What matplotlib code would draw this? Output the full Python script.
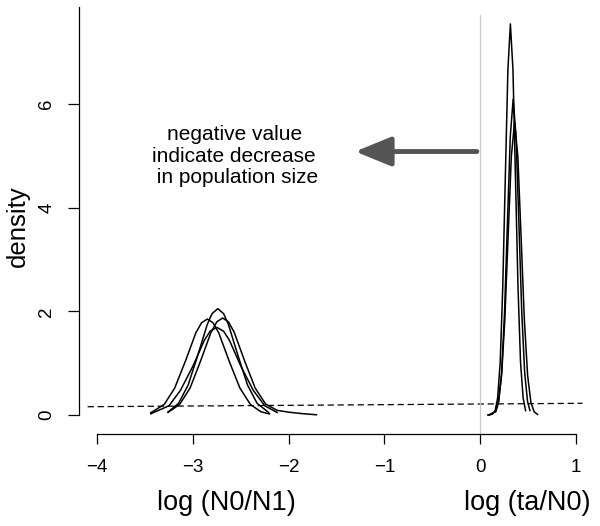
import numpy as np
import matplotlib.pyplot as plt

plt.rcParams['font.family'] = ['Liberation Sans', 'DejaVu Sans']

# posterior densities of log(N0/N1), four runs
n0n1_x1 = [-3.26, -3.15, -3.05, -2.95, -2.85, -2.80, -2.74, -2.68, -2.63, -2.53, -2.43, -2.33, -2.21]
n0n1_y1 = [0.058, 0.225, 0.579, 1.148, 1.749, 1.955, 2.05, 1.955, 1.749, 1.148, 0.579, 0.225, 0.051]
n0n1_x2 = [-3.44, -3.30, -3.19, -3.08, -2.97, -2.91, -2.85, -2.79, -2.73, -2.62, -2.51, -2.40, -2.29, -2.20]
n0n1_y2 = [0.044, 0.204, 0.522, 1.032, 1.582, 1.779, 1.85, 1.779, 1.582, 1.032, 0.522, 0.204, 0.063, 0.021]
n0n1_x3 = [-3.26, -3.14, -3.03, -2.92, -2.81, -2.75, -2.69, -2.63, -2.57, -2.46, -2.35, -2.24, -2.12, -2.00, -1.85, -1.71]
n0n1_y3 = [0.052, 0.202, 0.52, 1.043, 1.60, 1.798, 1.87, 1.798, 1.60, 1.043, 0.52, 0.21, 0.09, 0.055, 0.025, 0.005]
n0n1_x4 = [-3.44, -3.25, -3.13, -3.00, -2.88, -2.82, -2.75, -2.68, -2.62, -2.50, -2.37, -2.25, -2.12]
n0n1_y4 = [0.024, 0.179, 0.477, 0.943, 1.445, 1.616, 1.69, 1.616, 1.445, 0.943, 0.477, 0.179, 0.048]

# posterior densities of log(ta/N0), three runs
tan0_x1 = [0.080, 0.130, 0.157, 0.183, 0.210, 0.236, 0.263, 0.290, 0.316, 0.343, 0.369, 0.396, 0.422, 0.449, 0.475]
tan0_y1 = [0.0, 0.017, 0.084, 0.331, 1.020, 2.448, 4.573, 6.654, 7.54, 6.654, 4.573, 2.448, 1.020, 0.331, 0.084]
tan0_x2 = [0.090, 0.165, 0.195, 0.225, 0.255, 0.285, 0.315, 0.345, 0.375, 0.405, 0.435, 0.465, 0.495, 0.520]
tan0_y2 = [0.0, 0.068, 0.267, 0.824, 1.977, 3.694, 5.374, 6.09, 5.374, 3.694, 1.977, 0.824, 0.267, 0.086]
tan0_x3 = [0.100, 0.156, 0.190, 0.224, 0.258, 0.292, 0.326, 0.360, 0.394, 0.428, 0.462, 0.496, 0.530, 0.564, 0.600]
tan0_y3 = [0.004, 0.063, 0.248, 0.765, 1.835, 3.427, 4.986, 5.65, 4.986, 3.427, 1.835, 0.765, 0.248, 0.063, 0.011]

# prior (dashed line)
prior_x = [-4.1, 1.07]
prior_y = [0.16, 0.226]

x_ticks = [-4, -3, -2, -1, 0, 1]
y_ticks = [0, 2, 4, 6]

fig = plt.figure(figsize=(6, 5.26), dpi=100)
ax = fig.add_axes([0.1317, 0.1745, 0.852, 0.8116])

curves = [(n0n1_x1, n0n1_y1), (n0n1_x2, n0n1_y2), (n0n1_x3, n0n1_y3), (n0n1_x4, n0n1_y4),
          (tan0_x1, tan0_y1), (tan0_x2, tan0_y2), (tan0_x3, tan0_y3)]
for cx, cy in curves:
    ax.plot(cx, cy, color='black', lw=1.1)

ax.plot(prior_x, prior_y, color='black', lw=0.9, linestyle=(0, (5, 3)))
ax.axvline(0, ymin=0, ymax=0.982, color='#c8c8c8', lw=0.9)

ax.set_xlim(-4.19, 1.15)
ax.set_ylim(-0.37, 7.86)

# R style axes
ax.spines['top'].set_visible(False)
ax.spines['right'].set_visible(False)
ax.spines['bottom'].set_bounds(-4, 1)
ax.spines['left'].set_bounds(0, 7.86)
for s in ['bottom', 'left']:
    ax.spines[s].set_linewidth(0.9)

ax.set_xticks(x_ticks)
ax.set_yticks(y_ticks)
ax.set_yticklabels([str(v) for v in y_ticks], rotation=90, va='center')
ax.tick_params(axis='x', length=7.5, width=0.9, pad=10, labelsize=13.5)
ax.tick_params(axis='y', length=8, width=0.9, pad=9, labelsize=13.5)

ax.text(-0.119, 0.487, 'density', transform=ax.transAxes, rotation=90,
        ha='center', va='center', fontsize=18.5)
trans = ax.get_xaxis_transform()
ax.text(-2.65, -0.16, 'log (N0/N1)', transform=trans, ha='center', va='center', fontsize=19.5)
ax.text(0.49, -0.16, 'log (ta/N0)', transform=trans, ha='center', va='center', fontsize=19.5)

ax.text(-2.57, 4.99, 'negative value\nindicate decrease\n in population size',
        ha='center', va='center', fontsize=15, linespacing=1.15)
ax.annotate('', xy=(-1.305, 5.08), xytext=(-0.034, 5.08),
            arrowprops=dict(arrowstyle='-|>,head_length=1.1,head_width=0.45',
                            mutation_scale=20, lw=3.5, color='#555555',
                            shrinkA=0, shrinkB=0))

fig.savefig('out.png', dpi=100)
